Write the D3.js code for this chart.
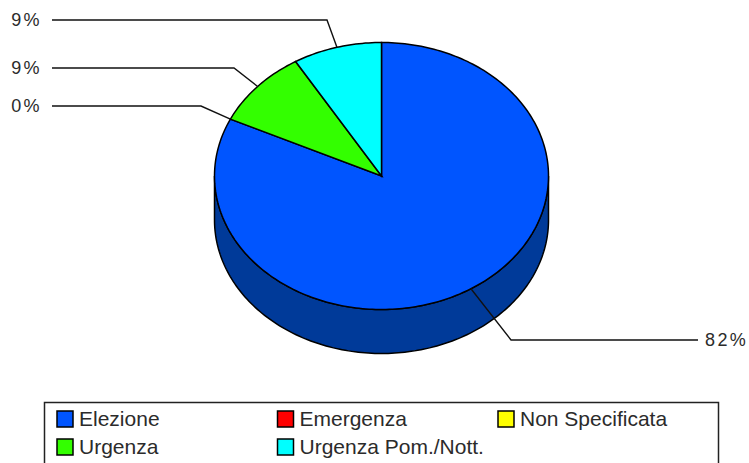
<!DOCTYPE html>
<html>
<head>
<meta charset="utf-8">
<script src="https://cdn.jsdelivr.net/npm/d3@7"></script>
<style>
  html, body { margin: 0; padding: 0; background: #fff; overflow: hidden; }
  text { font-family: "Liberation Sans", Arial, sans-serif; fill: #2b2b2b; }
</style>
</head>
<body>
<div id="chart-area"></div>
<script>
const categories = ["Elezione", "Emergenza", "Non Specificata", "Urgenza", "Urgenza Pom./Nott."]
// the two 9% slices are not the same size in the picture
const values = [82, 0, 0, 9.4, 8.6]
const topColors = ["#0055ff", "#ff0000", "#ffff00", "#33ff00", "#00ffff"]
const sideColors = ["#003a99", "#990000", "#999900", "#1f9900", "#009999"]
const labelled = ["Elezione", "Emergenza", "Urgenza", "Urgenza Pom./Nott."]
const labelTexts = ["82%", "0%", "9%", "9%"]

const svgWidth = 749
const svgHeight = 463

const pie = { cx: 381.5, cy: 176, rx: 167, ry: 133.5, depth: 44 }

const svg = d3.select("#chart-area")
  .append("svg")
  .attr("width", svgWidth)
  .attr("height", svgHeight)
  .style("display", "block")

// unit circle -> screen ellipse
const xScale = d3.scaleLinear().domain([-1, 1]).range([pie.cx - pie.rx, pie.cx + pie.rx])
const yScale = d3.scaleLinear().domain([-1, 1]).range([pie.cy - pie.ry, pie.cy + pie.ry])

const px = a => xScale(Math.sin(a))
const py = a => yScale(-Math.cos(a))

const slices = d3.pie().sort(null).value(d => d)(values)
  .map((s, i) => ({ ...s, name: categories[i], i }))

const steps = (a0, a1) => {
  const n = Math.max(2, Math.ceil((a1 - a0) / 0.02))
  return d3.range(n + 1).map(k => a0 + (a1 - a0) * k / n)
}

const line = d3.line()

// side wall, only the part of each slice facing front
const sideWall = svg.append("g")
slices.forEach(s => {
  const a0 = Math.max(s.startAngle, Math.PI / 2)
  const a1 = Math.min(s.endAngle, Math.PI * 1.5)
  if (a1 <= a0) return
  const arc = steps(a0, a1)
  const pts = arc.map(a => [px(a), py(a)])
    .concat(arc.slice().reverse().map(a => [px(a), py(a) + pie.depth]))
  sideWall.append("path")
    .attr("d", line(pts) + "Z")
    .attr("fill", sideColors[s.i])
    .attr("stroke", "#000")
    .attr("stroke-width", 1.5)
})

// top face
svg.append("g")
  .selectAll("path")
  .data(slices.filter(s => s.value > 0))
  .join("path")
  .attr("d", s => line([[pie.cx, pie.cy]].concat(steps(s.startAngle, s.endAngle).map(a => [px(a), py(a)]))) + "Z")
  .attr("fill", s => topColors[s.i])
  .attr("stroke", "#000")
  .attr("stroke-width", 1.5)

// leaders: elbow and label row for each labelled slice
const leaderLayout = {
  "Elezione": { elbow: [511, 340], end: 698, textX: 705, anchor: "start" },
  "Emergenza": { elbow: [201, 106], end: 52, textX: 42, anchor: "end" },
  "Urgenza": { elbow: [234, 68], end: 52, textX: 42, anchor: "end" },
  "Urgenza Pom./Nott.": { elbow: [327, 20], end: 52, textX: 42, anchor: "end" }
}

const leaders = svg.append("g")
labelled.forEach((name, i) => {
  const s = slices.find(d => d.name === name)
  const mid = (s.startAngle + s.endAngle) / 2
  const l = leaderLayout[name]
  leaders.append("path")
    .attr("d", line([[px(mid), py(mid)], l.elbow, [l.end, l.elbow[1]]]))
    .attr("fill", "none")
    .attr("stroke", "#111")
    .attr("stroke-width", 1.4)
  leaders.append("text")
    .attr("x", l.textX)
    .attr("y", l.elbow[1])
    .attr("dy", "0.36em")
    .attr("text-anchor", l.anchor)
    .attr("font-size", 18)
    .attr("letter-spacing", 2.4)
    .text(labelTexts[i])
})

// legend, bottom edge runs off the picture
const legend = svg.append("g")
legend.append("rect")
  .attr("x", 44.5)
  .attr("y", 402.5)
  .attr("width", 674)
  .attr("height", 80)
  .attr("fill", "#fff")
  .attr("stroke", "#222")
  .attr("stroke-width", 1.5)

const colX = d3.scalePoint().domain(d3.range(3)).range([57, 498])
const rowY = d3.scalePoint().domain(d3.range(2)).range([411, 439])

const items = legend.selectAll("g")
  .data(categories)
  .join("g")
  .attr("transform", (d, i) => `translate(${colX(i % 3)},${rowY(Math.floor(i / 3))})`)

items.append("rect")
  .attr("width", 16)
  .attr("height", 16)
  .attr("fill", (d, i) => topColors[i])
  .attr("stroke", "#000")
  .attr("stroke-width", 1.5)

items.append("text")
  .attr("x", 22)
  .attr("y", 15)
  .attr("font-size", 21)
  .text(d => d)
</script>
</body>
</html>
